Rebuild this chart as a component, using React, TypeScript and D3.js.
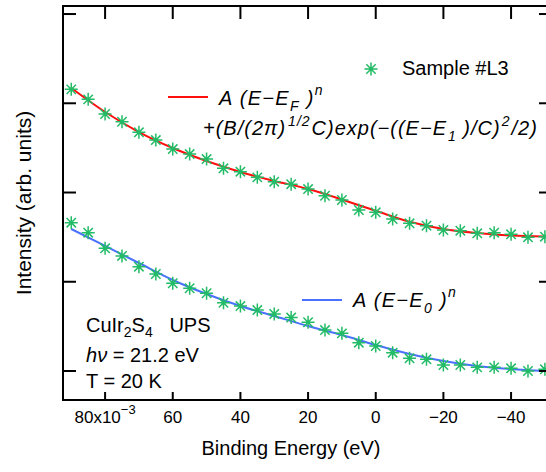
import React from "react";
import * as d3 from "d3";

// Binding energy (x 10^-3 eV) of each measured point
const energies = [90, 85, 80, 75, 70, 65, 60, 55, 50, 45, 40, 35, 30, 25, 20, 15, 10, 5, 0, -5, -10, -15, -20, -25, -30, -35, -40, -45, -50];
// Upper spectrum (arb. units, offset)
const upperData = [3.156, 3.044, 2.880, 2.793, 2.675, 2.588, 2.487, 2.431, 2.375, 2.271, 2.233, 2.170, 2.121, 2.093, 2.039, 1.964, 1.916, 1.804, 1.778, 1.703, 1.655, 1.628, 1.580, 1.572, 1.543, 1.550, 1.532, 1.498, 1.505];
// Lower spectrum (arb. units)
const lowerData = [1.662, 1.550, 1.375, 1.289, 1.169, 1.087, 0.983, 0.927, 0.871, 0.765, 0.728, 0.683, 0.639, 0.599, 0.546, 0.459, 0.422, 0.317, 0.280, 0.205, 0.142, 0.131, 0.067, 0.067, 0.041, 0.041, 0.030, 0.000, 0.019];
// Fit curves
const fitEnergies = [90, 80, 70, 60, 50, 40, 30, 20, 10, 0, -10, -20, -30, -40, -50];
const redFit = [3.171, 2.902, 2.678, 2.499, 2.353, 2.230, 2.129, 2.039, 1.922, 1.795, 1.672, 1.591, 1.546, 1.518, 1.507];
const blueFit = [1.591, 1.401, 1.210, 1.020, 0.863, 0.728, 0.616, 0.504, 0.403, 0.291, 0.191, 0.112, 0.056, 0.022, 0.000];
// Axis ticks
const xTicks = [80, 60, 40, 20, 0, -20, -40];
const xTickLabels = ["80x10", "60", "40", "20", "0", "\u221220", "\u221240"];
const yTicks = [0, 1, 2, 3, 4];

const W = 546;
const H = 472;
const L = 63, R = 552, T = 6, B = 400;
const FONT = "'Liberation Sans', Arial, sans-serif";
const GREEN = "#22bb66";
const RED = "#ff1010";
const BLUE = "#4a72ff";

function Star({ cx, cy }: { cx: number; cy: number }) {
  const r = 6.5;
  const d = r * 0.72;
  return (
    <path
      d={`M${cx - r},${cy}H${cx + r}M${cx},${cy - r}V${cy + r}M${cx - d},${cy - d}L${cx + d},${cy + d}M${cx - d},${cy + d}L${cx + d},${cy - d}`}
      stroke={GREEN}
      strokeWidth={1.5}
      fill="none"
    />
  );
}

export default function App() {
  const x = d3.scaleLinear().domain([92.44, -52.1]).range([L, R]);
  const y = d3.scaleLinear().domain([-0.325, 4.09]).range([B, T]);

  const line = d3
    .line<number>()
    .x((_, i) => x(fitEnergies[i]))
    .y((v) => y(v))
    .curve(d3.curveMonotoneX);

  return (
    <svg width={W} height={H} style={{ position: "absolute", left: 0, top: 0, background: "#fff" }} fontFamily={FONT}>
      <rect x={0} y={0} width={W} height={H} fill="#fff" />
      {/* fits */}
      <path d={line(redFit) || ""} stroke={RED} strokeWidth={2} fill="none" />
      <path d={line(blueFit) || ""} stroke={BLUE} strokeWidth={2} fill="none" />
      {/* data */}
      {upperData.map((v, i) => (
        <Star key={"u" + i} cx={x(energies[i])} cy={y(v)} />
      ))}
      {lowerData.map((v, i) => (
        <Star key={"l" + i} cx={x(energies[i])} cy={y(v)} />
      ))}
      {/* frame */}
      <rect x={L} y={T} width={R - L} height={B - T} fill="none" stroke="#000" strokeWidth={2} />
      {xTicks.map((t) => (
        <g key={"xt" + t}>
          <line x1={x(t)} x2={x(t)} y1={B} y2={B - 8} stroke="#000" strokeWidth={2} />
          <line x1={x(t)} x2={x(t)} y1={T} y2={T + 13} stroke="#000" strokeWidth={2} />
        </g>
      ))}
      {yTicks.map((t) => (
        <g key={"yt" + t}>
          <line x1={L} x2={L + 13} y1={y(t)} y2={y(t)} stroke="#000" strokeWidth={2} />
          <line x1={R} x2={R - 13} y1={y(t)} y2={y(t)} stroke="#000" strokeWidth={2} />
        </g>
      ))}
      {/* x tick labels */}
      {xTicks.map((t, i) =>
        i === 0 ? (
          <text key={"xl" + t} x={x(t)} y={423} fontSize={17} textAnchor="middle">
            {xTickLabels[i]}
            <tspan dy={-9} fontSize={13}>{"\u22123"}</tspan>
          </text>
        ) : (
          <text key={"xl" + t} x={x(t)} y={423} fontSize={17} textAnchor="middle">
            {xTickLabels[i]}
          </text>
        )
      )}
      <text x={291} y={455} fontSize={20} textAnchor="middle">Binding Energy (eV)</text>
      <text transform="translate(31,203) rotate(-90)" fontSize={21} textAnchor="middle">Intensity (arb. units)</text>

      {/* legend: sample */}
      <Star cx={371} cy={69} />
      <text x={402} y={75} fontSize={20}>Sample #L3</text>

      {/* legend: red fit */}
      <line x1={168} x2={208} y1={97} y2={97} stroke={RED} strokeWidth={2} />
      <text x={219} y={105} fontSize={20} fontStyle="italic" letterSpacing={1.3}>
        A  (E{"\u2212"}E<tspan dy={6} fontSize={14}>F</tspan>
        <tspan dy={-6}> )</tspan>
        <tspan dy={-10} fontSize={14}>n</tspan>
      </text>
      <text x={203} y={135} fontSize={20} fontStyle="italic" letterSpacing={1.0}>
        +(B/(2{"\u03c0"})<tspan dy={-9} fontSize={14} dx={2}>1/2</tspan>
        <tspan dy={9} dx={1}>C)exp({"\u2212"}((E{"\u2212"}E</tspan>
        <tspan dy={6} fontSize={14} dx={1}>1</tspan>
        <tspan dy={-6}> )/C)</tspan>
        <tspan dy={-9} fontSize={14} dx={1}>2</tspan>
        <tspan dy={9} dx={1}>/2)</tspan>
      </text>

      {/* legend: blue fit */}
      <line x1={302} x2={342} y1={300} y2={300} stroke={BLUE} strokeWidth={2} />
      <text x={353} y={307} fontSize={20} fontStyle="italic" letterSpacing={1.3}>
        A  (E{"\u2212"}E<tspan dy={6} fontSize={14}>0</tspan>
        <tspan dy={-6}> )</tspan>
        <tspan dy={-10} fontSize={14}>n</tspan>
      </text>

      {/* sample info */}
      <text x={86} y={332} fontSize={20}>
        CuIr<tspan dy={5} fontSize={14}>2</tspan>
        <tspan dy={-5}>S</tspan>
        <tspan dy={5} fontSize={14}>4</tspan>
        <tspan dy={-5}>{"\u00a0\u00a0\u00a0UPS"}</tspan>
      </text>
      <text x={86} y={362} fontSize={20}>
        <tspan fontStyle="italic">h{"\u03bd"}</tspan> = 21.2 eV
      </text>
      <text x={86} y={388} fontSize={20}>T = 20 K</text>
    </svg>
  );
}
